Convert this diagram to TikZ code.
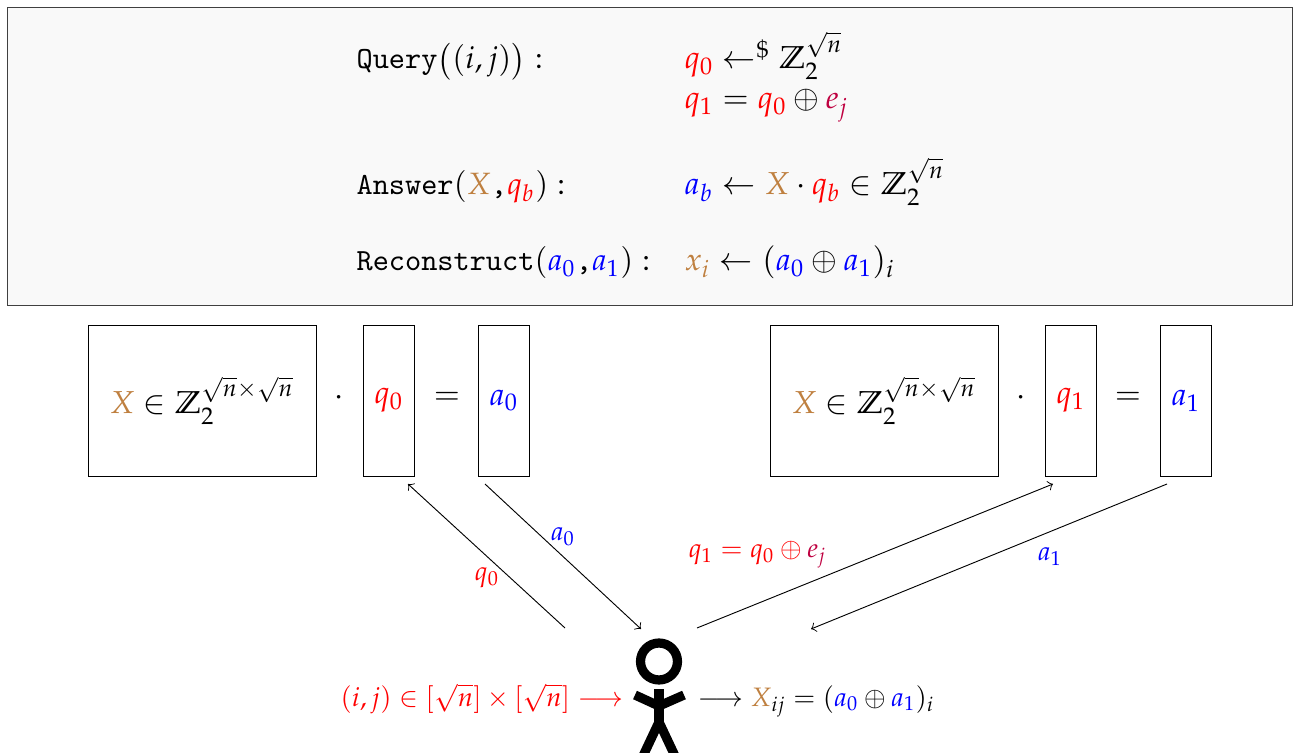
\documentclass[tikz,border=0pt]{standalone}
\usepackage{amssymb}
\usepackage{mathpazo}
\usepackage{graphicx}
\usepackage{xcolor}
\usetikzlibrary{arrows,positioning}

\newcommand{\qv}[1]{\textcolor{red}{q_{#1}}}
\newcommand{\av}[1]{\textcolor{blue}{a_{#1}}}
\newcommand{\XX}{\textcolor{brown}{X}}
\newcommand{\ZZ}{\mathbb{Z}_2}
\newcommand{\lgm}[1]{\scalebox{1.03}{$#1$}}
\newcommand{\smm}[1]{\scalebox{0.865}{$#1$}}

\begin{document}
\begin{tikzpicture}[
    x=0.3247pt, y=-0.3247pt,
    panel/.style={rectangle, draw=black!75, fill=black!2.5, line width=0.3pt, inner sep=0pt,
        minimum width=417.4pt, minimum height=96.7pt},
    mat/.style={rectangle, draw, line width=0.3pt, inner sep=0pt, minimum width=16.3pt, minimum height=49.05pt},
    big/.style={rectangle, draw, line width=0.3pt, inner sep=0pt, minimum width=74.05pt, minimum height=49.05pt},
    lhs/.style={anchor=base west, inner sep=0pt},
    msg/.style={->, >=to, line width=0.3pt},
    lbl/.style={inner sep=0pt},
    stick/.style={line width=3pt, draw=black},
]
\clip (0,0) rectangle (1293,753);

% ---------- scheme ----------
\node[panel] (panel) at (649.7,156.5) {};

\node[lhs] (qry) at (356,69) {$\texttt{Query}\bigl((i,j)\bigr):$};
\node[lhs] (qzero) at (684,69) {\lgm{\qv{0} \leftarrow^{\$} \ZZ^{\sqrt{n}}}};
\node[lhs] (qone) at (684,109) {\lgm{\qv{1} = \qv{0} \oplus \textcolor{purple}{e_j}}};
\node[lhs] (ans) at (356,195) {$\texttt{Answer}(\XX\texttt{,}\qv{b}):$};
\node[lhs] (ab) at (684,195) {\lgm{\av{b} \leftarrow \XX\cdot\qv{b} \in \ZZ^{\sqrt{n}}}};
\node[lhs] (rec) at (356,271) {$\texttt{Reconstruct}(\av{0}\texttt{,}\av{1}):$};
\node[lhs] (xi) at (684,271) {\lgm{\textcolor{brown}{x_i} \leftarrow (\av{0} \oplus \av{1})_i}};

% ---------- left server ----------
\node[big] (Xleft) at (202,400.5) {\lgm{\XX \in \ZZ^{\sqrt{n}\times\sqrt{n}}}};
\node[lbl] (dotl) at (339,398) {\lgm{\cdot}};
\node[mat] (qbox0) at (389,400.5) {\lgm{\qv{0}}};
\node[lbl] (eql) at (447,398) {\lgm{=}};
\node[mat] (abox0) at (504,400.5) {\lgm{\av{0}}};

% ---------- right server ----------
\node[big] (Xright) at (884,400.5) {\lgm{\XX \in \ZZ^{\sqrt{n}\times\sqrt{n}}}};
\node[lbl] (dotr) at (1021,398) {\lgm{\cdot}};
\node[mat] (qbox1) at (1071,400.5) {\lgm{\qv{1}}};
\node[lbl] (eqr) at (1128,398) {\lgm{=}};
\node[mat] (abox1) at (1186,400.5) {\lgm{\av{1}}};

% ---------- messages ----------
\coordinate (qout0) at (565,628);
\coordinate (qin0) at (408,484);
\coordinate (aout0) at (485,484);
\coordinate (ain0) at (641,629);
\coordinate (qout1) at (697,628);
\coordinate (qin1) at (1053,484);
\coordinate (aout1) at (1167,484);
\coordinate (ain1) at (811,629);
\draw[msg] (qout0) -- (qin0);
\draw[msg] (aout0) -- (ain0);
\draw[msg] (qout1) -- (qin1);
\draw[msg] (aout1) -- (ain1);
\node[lbl] (lq0) at (487,578) {\smm{\qv{0}}};
\node[lbl] (la0) at (563,537) {\smm{\av{0}}};
\node[lbl] (lq1) at (757.5,555) {\smm{\qv{1}\textcolor{red}{{}={}}\qv{0}\textcolor{red}{{}\oplus{}}\textcolor{purple}{e_j}}};
\node[lbl] (la1) at (1050,557) {\smm{\av{1}}};

% ---------- client ----------
\node[lhs] (inp) at (340,706) {\color{red}\smm{(i,j)\in[\sqrt{n}]\times[\sqrt{n}]\longrightarrow}};
\node[lhs] (out) at (697,706) {\smm{\longrightarrow \XX_{ij} = (\av{0}\oplus\av{1})_i}};
\node[circle, line width=3pt, draw, minimum size=12pt, inner sep=0pt] (head) at (659,661.5) {};
\coordinate (neck) at (659,689);
\coordinate (hip) at (659,722);
\coordinate (armc) at (659,706);
\coordinate (arml) at (635,695);
\coordinate (armr) at (684,695);
\coordinate (footl) at (643,756);
\coordinate (footr) at (675,756);
\draw[stick] (neck) -- (hip);
\draw[stick] (arml) -- (armc) -- (armr);
\draw[stick] (footl) -- (hip) -- (footr);

\end{tikzpicture}
\end{document}
